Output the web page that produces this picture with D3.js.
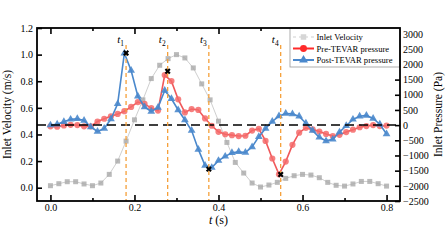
<!DOCTYPE html>
<html>
<head>
<meta charset="utf-8">
<script src="https://cdn.jsdelivr.net/npm/d3@7"></script>
<style>
body { margin: 0; background: #fff; }
text { font-family: "Liberation Serif", "Times New Roman", serif; fill: #000; }
</style>
</head>
<body>
<div id="chart"></div>
<script>
// ====== Inlet velocity vs. inlet pressure (pre / post TEVAR) ======

// Inlet velocity samples (m/s)
var velTime = [0.00, 0.02, 0.04, 0.06, 0.08, 0.10, 0.12, 0.14, 0.16, 0.18,
    0.20, 0.22, 0.24, 0.26, 0.28, 0.30, 0.32, 0.34, 0.36, 0.38,
    0.40, 0.42, 0.44, 0.46, 0.48, 0.50, 0.52, 0.54, 0.56, 0.58,
    0.60, 0.62, 0.64, 0.66, 0.68, 0.70, 0.72, 0.74, 0.76, 0.78, 0.80];
var velocity = [0.015, 0.03, 0.045, 0.045, 0.028, 0.015, 0.035, 0.10, 0.20, 0.35,
    0.51, 0.66, 0.82, 0.92, 0.97, 1.00, 0.975, 0.90, 0.78, 0.66,
    0.50, 0.34, 0.19, 0.11, 0.035, 0.005, 0.02, 0.04, 0.07, 0.09,
    0.10, 0.095, 0.075, 0.04, 0.018, 0.012, 0.028, 0.047, 0.047, 0.03, 0.012];

// Inlet pressure samples (Pa)
var presTime = [0.000, 0.016, 0.032, 0.048, 0.064, 0.080, 0.096, 0.112, 0.128, 0.144,
    0.160, 0.176, 0.192, 0.208, 0.224, 0.240, 0.256, 0.272, 0.288, 0.304,
    0.320, 0.336, 0.352, 0.368, 0.384, 0.400, 0.416, 0.432, 0.448, 0.464,
    0.480, 0.496, 0.512, 0.528, 0.544, 0.560, 0.576, 0.592, 0.608, 0.624,
    0.640, 0.656, 0.672, 0.688, 0.704, 0.720, 0.736, 0.752, 0.768, 0.784, 0.800];
var prePressure = [-40, -50, -10, 10, 0, -40, -40, 120, 210, 290,
    370, 460, 600, 760, 700, 560, 480, 1650, 1450, 850,
    420, 530, 500, 220, -20, -220, -300, -330, -360, -350,
    -180, -120, -520, -1100, -1620, -1200, -650, -250, -90, -140,
    -210, -290, -360, -320, -230, -150, -70, -30, 0, -30, -15];
var postPressure = [0, 30, 110, 190, 210, 150, -60, -210, -110, 200,
    700, 2370, 1800, 950, 600, 450, 580, 1140, 870, 500,
    170, -180, -800, -1330, -1400, -1170, -1030, -910, -880, -900,
    -720, -380, -110, 120, 300, 380, 370, 290, 60, -180,
    -400, -520, -470, -230, -20, 190, 290, 320, 220, 30, -290];

// Marked instants t1..t4 and the pressure extrema on them
var eventTime = [0.180, 0.279, 0.377, 0.548];
var eventPressure = [2378, 1776, -1450, -1625];
var eventLabel = ['1', '2', '3', '4'];

// Tick values
var xTicks = [0.0, 0.2, 0.4, 0.6, 0.8];
var xMinorTicks = [0.1, 0.3, 0.5, 0.7];
var velTicks = [0.0, 0.2, 0.4, 0.6, 0.8, 1.0, 1.2];
var presTicks = [-2500, -2000, -1500, -1000, -500, 0, 500, 1000, 1500, 2000, 2500, 3000];

var legendNames = ['Inlet Velocity', 'Pre-TEVAR pressure', 'Post-TEVAR pressure'];

var width = 448, height = 252,
    box = {left: 37, right: 400, top: 28, bottom: 201},
    red = '#f0585a', blue = '#4a88cc', grey = '#a9a9a9', orange = '#f5a03a';

var svg = d3.select('#chart').append('svg')
    .attr('width', width)
    .attr('height', height)
    .style('background', '#fff');

// Scales:
var x = d3.scaleLinear().domain([-0.032, 0.832]).range([box.left, box.right]);
var yVel = d3.scaleLinear().domain([-0.1, 1.2]).range([box.bottom, box.top]);
var yPres = d3.scaleLinear().domain([-2500, 3200]).range([box.bottom, box.top]);

// Clip everything to the plot box
svg.append('clipPath').attr('id', 'clip')
  .append('rect')
    .attr('x', box.left).attr('y', box.top)
    .attr('width', box.right - box.left).attr('height', box.bottom - box.top);

var plot = svg.append('g').attr('clip-path', 'url(#clip)');

// Inlet velocity (grey squares)
var velData = velTime.map(function(t, i) { return {t: t, v: velocity[i]}; });
plot.append('path')
    .datum(velData)
    .attr('fill', 'none')
    .attr('stroke', '#cfcfcf')
    .attr('stroke-width', 1)
    .attr('d', d3.line().x(function(d) { return x(d.t); }).y(function(d) { return yVel(d.v); }));
plot.selectAll('.sq')
    .data(velData)
  .enter().append('rect')
    .attr('class', 'sq')
    .attr('x', function(d) { return x(d.t) - 2.5; })
    .attr('y', function(d) { return yVel(d.v) - 2.5; })
    .attr('width', 5).attr('height', 5)
    .attr('fill', grey)
    .attr('fill-opacity', 0.8);

// Pressure lines
var presLine = d3.line().x(function(d) { return x(d.t); }).y(function(d) { return yPres(d.p); });
var preData = presTime.map(function(t, i) { return {t: t, p: prePressure[i]}; });
var postData = presTime.map(function(t, i) { return {t: t, p: postPressure[i]}; });

plot.append('path')
    .datum(preData)
    .attr('fill', 'none')
    .attr('stroke', red)
    .attr('stroke-width', 1.6)
    .attr('d', presLine);
plot.selectAll('.dot')
    .data(preData)
  .enter().append('circle')
    .attr('class', 'dot')
    .attr('cx', function(d) { return x(d.t); })
    .attr('cy', function(d) { return yPres(d.p); })
    .attr('r', 3.1)
    .attr('fill', '#f46a6a')
    .attr('fill-opacity', 0.85);

plot.append('path')
    .datum(postData)
    .attr('fill', 'none')
    .attr('stroke', blue)
    .attr('stroke-width', 1.6)
    .attr('d', presLine);
plot.selectAll('.tri')
    .data(postData)
  .enter().append('path')
    .attr('class', 'tri')
    .attr('transform', function(d) { return 'translate(' + x(d.t) + ',' + yPres(d.p) + ')'; })
    .attr('d', d3.symbol().type(d3.symbolTriangle).size(26))
    .attr('fill', blue)
    .attr('fill-opacity', 0.9);

// Zero pressure reference
svg.append('line')
    .attr('x1', box.left).attr('x2', box.right)
    .attr('y1', yPres(0)).attr('y2', yPres(0))
    .attr('stroke', '#000')
    .attr('stroke-width', 1.5)
    .attr('stroke-dasharray', '9,5');

// Event lines t1..t4
svg.selectAll('.event')
    .data(eventTime)
  .enter().append('line')
    .attr('class', 'event')
    .attr('x1', function(d) { return x(d); }).attr('x2', function(d) { return x(d); })
    .attr('y1', 45).attr('y2', box.bottom)
    .attr('stroke', orange)
    .attr('stroke-width', 1.3)
    .attr('stroke-dasharray', '4,3');

var evLabels = svg.selectAll('.evlabel')
    .data(eventTime)
  .enter().append('text')
    .attr('class', 'evlabel')
    .attr('x', function(d) { return x(d) - 2; })
    .attr('y', 43)
    .attr('text-anchor', 'end')
    .style('font-size', '11px');
evLabels.append('tspan').style('font-style', 'italic').text('t');
evLabels.append('tspan')
    .attr('dy', 2.5)
    .style('font-size', '7.5px')
    .text(function(d, i) { return eventLabel[i]; });

// Extrema crosses
svg.selectAll('.cross')
    .data(eventTime)
  .enter().append('path')
    .attr('class', 'cross')
    .attr('transform', function(d, i) { return 'translate(' + x(d) + ',' + yPres(eventPressure[i]) + ') rotate(45)'; })
    .attr('d', d3.symbol().type(d3.symbolCross).size(22))
    .attr('fill', '#000');

// Axes
function styleAxis(g) {
    g.select('.domain').remove();
    g.selectAll('.tick line').attr('stroke', '#000').attr('stroke-width', 1.6);
    g.selectAll('.tick text').style('font-size', '10px').style('font-family', '"Liberation Serif", serif');
}

svg.append('g')
    .attr('transform', 'translate(0,' + box.bottom + ')')
    .call(d3.axisBottom(x).tickValues(xTicks).tickFormat(d3.format('.1f')).tickSizeInner(-6).tickSizeOuter(0).tickPadding(3))
    .call(styleAxis);
svg.append('g')
    .attr('transform', 'translate(0,' + box.bottom + ')')
    .call(d3.axisBottom(x).tickValues(xMinorTicks).tickFormat('').tickSizeInner(-3).tickSizeOuter(0))
    .call(styleAxis);
svg.append('g')
    .attr('transform', 'translate(0,' + box.top + ')')
    .call(d3.axisTop(x).tickValues(xTicks).tickFormat('').tickSizeInner(-6).tickSizeOuter(0))
    .call(styleAxis);
svg.append('g')
    .attr('transform', 'translate(0,' + box.top + ')')
    .call(d3.axisTop(x).tickValues(xMinorTicks).tickFormat('').tickSizeInner(-3).tickSizeOuter(0))
    .call(styleAxis);
svg.append('g')
    .attr('transform', 'translate(' + box.left + ',0)')
    .call(d3.axisLeft(yVel).tickValues(velTicks).tickFormat(d3.format('.1f')).tickSizeInner(-5).tickSizeOuter(0).tickPadding(4))
    .call(styleAxis);
svg.append('g')
    .attr('transform', 'translate(' + box.right + ',0)')
    .call(d3.axisRight(yPres).tickValues(presTicks).tickFormat(d3.format('d')).tickSizeInner(-5).tickSizeOuter(0).tickPadding(3))
    .call(styleAxis);

// Legend
var legend = svg.append('g');
legend.append('rect')
    .attr('x', 290).attr('y', box.top)
    .attr('width', box.right - 290).attr('height', 39)
    .attr('fill', '#fff')
    .attr('stroke', '#9a9a9a')
    .attr('stroke-width', 0.8);

var rows = legend.selectAll('.row')
    .data(legendNames)
  .enter().append('g')
    .attr('class', 'row')
    .attr('transform', function(d, i) { return 'translate(0,' + (box.top + 9 + i * 11.5) + ')'; });
rows.append('line')
    .attr('x1', 293).attr('x2', 314)
    .attr('stroke', function(d, i) { return ['#cfcfcf', '#ff2a2a', blue][i]; })
    .attr('stroke-width', function(d, i) { return i ? 2 : 1.2; })
    .attr('stroke-dasharray', function(d, i) { return i ? null : '3,3'; });
rows.append('path')
    .attr('transform', 'translate(303.5,0)')
    .attr('d', function(d, i) {
        return d3.symbol().type([d3.symbolSquare, d3.symbolCircle, d3.symbolTriangle][i]).size([30, 38, 34][i])();
    })
    .attr('fill', function(d, i) { return ['#d6d6d6', '#ff2a2a', blue][i]; });
rows.append('text')
    .attr('x', 316.5)
    .attr('y', 3.2)
    .style('font-size', '8.6px')
    .text(function(d) { return d; });

// Frame
svg.append('rect')
    .attr('x', box.left).attr('y', box.top)
    .attr('width', box.right - box.left).attr('height', box.bottom - box.top)
    .attr('fill', 'none')
    .attr('stroke', '#000')
    .attr('stroke-width', 1.8);

// Axis titles
svg.append('text')
    .attr('transform', 'translate(11,' + ((box.top + box.bottom) / 2) + ') rotate(-90)')
    .attr('text-anchor', 'middle')
    .style('font-size', '11.5px')
    .text('Inlet Velocity (m/s)');
svg.append('text')
    .attr('transform', 'translate(442,' + ((box.top + box.bottom) / 2) + ') rotate(-90)')
    .attr('text-anchor', 'middle')
    .style('font-size', '11.5px')
    .text('Inlet Pressure (Pa)');

var xTitle = svg.append('text')
    .attr('x', x(0.4))
    .attr('y', 224)
    .attr('text-anchor', 'middle')
    .style('font-size', '12px');
xTitle.append('tspan').style('font-style', 'italic').text('t');
xTitle.append('tspan').text(' (s)');
</script>
</body>
</html>
